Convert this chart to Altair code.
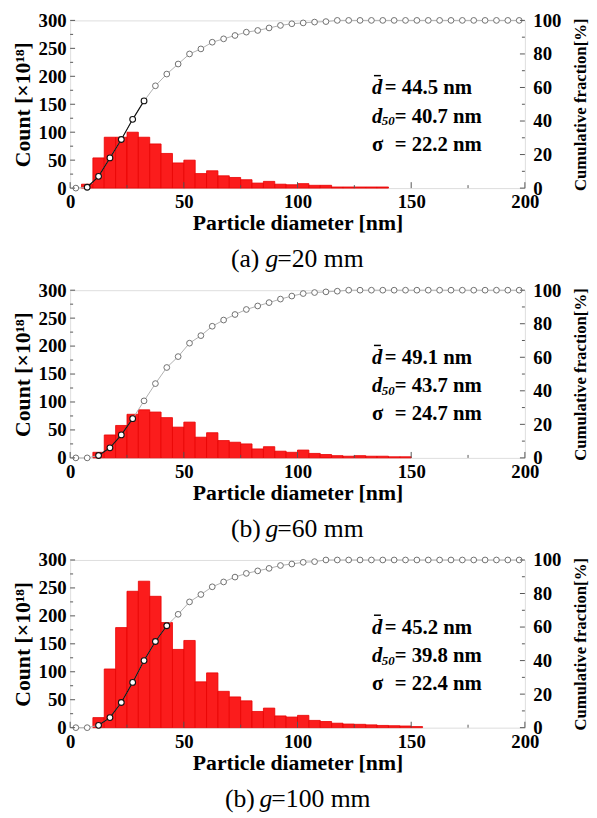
import altair as alt
import pandas as pd

# ---------------- data ----------------
BIN_LEFT = [0, 5, 10, 15, 20, 25, 30, 35, 40, 45, 50, 55, 60, 65, 70, 75, 80, 85, 90, 95,
            100, 105, 110, 115, 120, 125, 130, 135, 140, 145, 150, 155, 160, 165, 170, 175,
            180, 185, 190, 195]
BIN_RIGHT = [5, 10, 15, 20, 25, 30, 35, 40, 45, 50, 55, 60, 65, 70, 75, 80, 85, 90, 95, 100,
             105, 110, 115, 120, 125, 130, 135, 140, 145, 150, 155, 160, 165, 170, 175, 180,
             185, 190, 195, 200]
CUM_X = [2.5, 7.5, 12.5, 17.5, 22.5, 27.5, 32.5, 37.5, 42.5, 47.5, 52.5, 57.5, 62.5, 67.5,
         72.5, 77.5, 82.5, 87.5, 92.5, 97.5, 102.5, 107.5, 112.5, 117.5, 122.5, 127.5, 132.5,
         137.5, 142.5, 147.5, 152.5, 157.5, 162.5, 167.5, 172.5, 177.5, 182.5, 187.5, 192.5,
         197.5]

COUNT_A = [0, 7, 54, 91, 91, 100, 91, 79, 62, 45, 50, 26, 31, 22, 19, 15, 9, 12, 7, 6,
           8, 5, 5, 2, 2, 2, 2, 2, 0, 0, 0, 0, 0, 0, 0, 0, 0, 0, 0, 0]
COUNT_B = [0, 0, 10, 41, 58, 78, 86, 82, 72, 55, 64, 37, 45, 31, 28, 25, 16, 20, 12, 10,
           14, 8, 6, 4, 3, 4, 3, 3, 2, 2, 0, 0, 0, 0, 0, 0, 0, 0, 0, 0]
COUNT_C = [0, 0, 18, 105, 179, 244, 262, 235, 188, 140, 156, 82, 98, 65, 55, 48, 29, 35, 21, 19,
           22, 13, 11, 8, 6.5, 6, 5, 4, 3.5, 3, 2, 0, 0, 0, 0, 0, 0, 0, 0, 0]

CUM_A = [0, 0.5, 7, 18, 29, 41, 52, 61, 68, 74, 80, 83, 87, 89, 91, 93, 94, 95.5, 97, 98,
         98.5, 99, 99.3, 100, 100, 100, 100, 100, 100, 100, 100, 100, 100, 100, 100, 100,
         100, 100, 100, 100]
CUM_B = [0, 0, 1.4, 6, 13.7, 23.4, 34, 44.3, 53.9, 60.4, 68.4, 72.9, 78.5, 82.2, 85.5, 88.5,
         90.6, 92.6, 94.7, 96.5, 98, 98.6, 99, 99.4, 100, 100, 100, 100, 100, 100, 100, 100,
         100, 100, 100, 100, 100, 100, 100, 100]
CUM_C = [0, 0, 1.4, 6, 15, 27, 40, 51.4, 60.8, 67.6, 75, 79.4, 84, 86.9, 89.8, 92, 93.5, 95,
         96.7, 97.6, 98.6, 99, 100, 100, 100, 100, 100, 100, 100, 100, 100, 100, 100, 100,
         100, 100, 100, 100, 100, 100]

MEAN = ["44.5", "49.1", "45.2"]
D50 = ["40.7", "43.7", "39.8"]
SIGMA = ["22.2", "24.7", "22.4"]
CAP_PREFIX = ["(a)", "(b)", "(b)"]
CAP_SUFFIX = ["=20 mm", "=60 mm", "=100 mm"]

X_MAJOR = [0, 50, 100, 150, 200]
X_MINOR = [25, 75, 125, 175]
Y_MAJOR = [0, 50, 100, 150, 200, 250, 300]
Y_MINOR = [25, 75, 125, 175, 225, 275]
R_MAJOR = [0, 20, 40, 60, 80, 100]
R_MINOR = [10, 30, 50, 70, 90]

# ---------------- style ----------------
FONT = "Times New Roman, Liberation Serif, DejaVu Serif, serif"
W, H = 461, 170
DARK_RANGE = [(7.5, 32.5), (12.5, 27.5), (12.5, 42.5)]
CAP_X = [(163, 198, 210), (163, 198, 210), (157, 192, 204)]
CAP_DY = [72, 72, 72]

xs = alt.Scale(domain=[0, 200], nice=False, zero=False)
ysl = alt.Scale(domain=[0, 300], nice=False)
ysr = alt.Scale(domain=[0, 100], nice=False)

lab = dict(labelFont=FONT, labelFontWeight="bold", labelFontSize=19, labelColor="black",
           titleFont=FONT, titleFontWeight="bold", titleColor="black",
           ticks=False, domain=False, grid=False, labelOverlap=False)

xaxis = alt.Axis(values=X_MAJOR, labelFlush=False, labelPadding=5, title="Particle diameter [nm]",
                 titleFontSize=22, titlePadding=1, **lab)
yaxis_l = alt.Axis(values=Y_MAJOR, labelPadding=4, title="Count [×10¹⁸]", titleFontSize=22,
                   titlePadding=4, **lab)
yaxis_r = alt.Axis(values=R_MAJOR, orient="right", labelPadding=8, title="Cumulative fraction[%]",
                   titleFontSize=17, titlePadding=12, titleAngle=270, titleBaseline="top", **lab)

one = pd.DataFrame({"k": [0]})


def txt(s, x, y, size=21, style="normal", weight="bold", align="left"):
    return alt.Chart(one).mark_text(text=s, font=FONT, fontSize=size, fontWeight=weight,
                                    fontStyle=style, align=align, baseline="middle",
                                    color="black").encode(x=alt.value(x), y=alt.value(y))


def panel(i, counts, cum):
    bars = pd.DataFrame({"left": BIN_LEFT, "right": BIN_RIGHT, "count": counts})
    bars = bars[bars["count"] > 0].copy()
    bars["base"] = 0
    lo, hi = DARK_RANGE[i]
    cdf = pd.DataFrame({"x": CUM_X, "cum": cum})
    dark = cdf[(cdf["x"] >= lo) & (cdf["x"] <= hi)]
    light = cdf[(cdf["x"] < lo) | (cdf["x"] > hi)]

    X = lambda f: alt.X(f, scale=xs, axis=xaxis)

    bar = alt.Chart(bars).mark_rect(fill="#fb1c1c", stroke="#e80000", strokeWidth=0.8).encode(
        x=X("left:Q"), x2="right", y=alt.Y("count:Q", scale=ysl, axis=yaxis_l), y2="base")
    line_all = alt.Chart(cdf).mark_line(color="#b0b0b0", strokeWidth=1).encode(
        x=X("x:Q"), y=alt.Y("cum:Q", scale=ysr, axis=yaxis_r))
    line_dark = alt.Chart(dark).mark_line(color="#111111", strokeWidth=1.1).encode(
        x=X("x:Q"), y=alt.Y("cum:Q", scale=ysr, axis=None))
    pts_light = alt.Chart(light).mark_circle(fill="white", stroke="#707070", strokeWidth=1,
                                             size=34, opacity=1).encode(
        x=X("x:Q"), y=alt.Y("cum:Q", scale=ysr, axis=None))
    pts_dark = alt.Chart(dark).mark_circle(fill="white", stroke="#111111", strokeWidth=1.1,
                                           size=34, opacity=1).encode(
        x=X("x:Q"), y=alt.Y("cum:Q", scale=ysr, axis=None))

    tc = "#555555"
    xt_major = alt.Chart(pd.DataFrame({"v": X_MAJOR})).mark_rule(color=tc).encode(
        x=X("v:Q"), y=alt.value(H), y2=alt.value(H - 6))
    xt_minor = alt.Chart(pd.DataFrame({"v": X_MINOR})).mark_rule(color=tc).encode(
        x=X("v:Q"), y=alt.value(H), y2=alt.value(H - 3))
    yl_major = alt.Chart(pd.DataFrame({"v": Y_MAJOR})).mark_rule(color=tc).encode(
        y=alt.Y("v:Q", scale=ysl, axis=None), x=alt.value(0), x2=alt.value(5))
    yl_minor = alt.Chart(pd.DataFrame({"v": Y_MINOR})).mark_rule(color=tc).encode(
        y=alt.Y("v:Q", scale=ysl, axis=None), x=alt.value(0), x2=alt.value(3))
    yr_major = alt.Chart(pd.DataFrame({"v": R_MAJOR})).mark_rule(color=tc).encode(
        y=alt.Y("v:Q", scale=ysr, axis=None), x=alt.value(W), x2=alt.value(W - 5))
    yr_minor = alt.Chart(pd.DataFrame({"v": R_MINOR})).mark_rule(color=tc).encode(
        y=alt.Y("v:Q", scale=ysr, axis=None), x=alt.value(W), x2=alt.value(W - 3))

    r1, r2, r3 = 69, 97.5, 126
    ann = [
        txt("d", 306, r1, style="italic"),
        alt.Chart(one).mark_rule(color="black", strokeWidth=1.5).encode(
            x=alt.value(308), x2=alt.value(315), y=alt.value(r1 - 13)),
        txt("= " + MEAN[i] + " nm", 319, r1),
        txt("d", 306, r2, style="italic"),
        txt("50", 316, r2 + 5, size=13, style="italic"),
        txt("= " + D50[i] + " nm", 329, r2),
        txt("σ", 306, r3),
        txt("= " + SIGMA[i] + " nm", 329, r3),
    ]
    cx = CAP_X[i]
    cy = H + CAP_DY[i]
    cap = [
        txt(CAP_PREFIX[i], cx[0], cy, size=26, weight="normal"),
        txt("g", cx[1], cy, size=26, weight="normal", style="italic"),
        txt(CAP_SUFFIX[i], cx[2], cy, size=26, weight="normal"),
    ]

    layers = [bar, line_all, line_dark, pts_light, pts_dark,
              xt_major, xt_minor, yl_major, yl_minor, yr_major, yr_minor] + ann + cap
    return alt.layer(*layers).resolve_scale(y="independent").properties(width=W, height=H)


chart = alt.vconcat(
    panel(0, COUNT_A, CUM_A),
    panel(1, COUNT_B, CUM_B),
    panel(2, COUNT_C, CUM_C),
    spacing=103.5, bounds="flush",
).properties(padding={"left": 2, "top": -3, "right": 0, "bottom": 0}).configure_view(
    stroke="#6e6e6e", strokeWidth=1.2
).configure(background="white")

chart.save("out.html", embed_options={"renderer": "svg", "actions": False})
